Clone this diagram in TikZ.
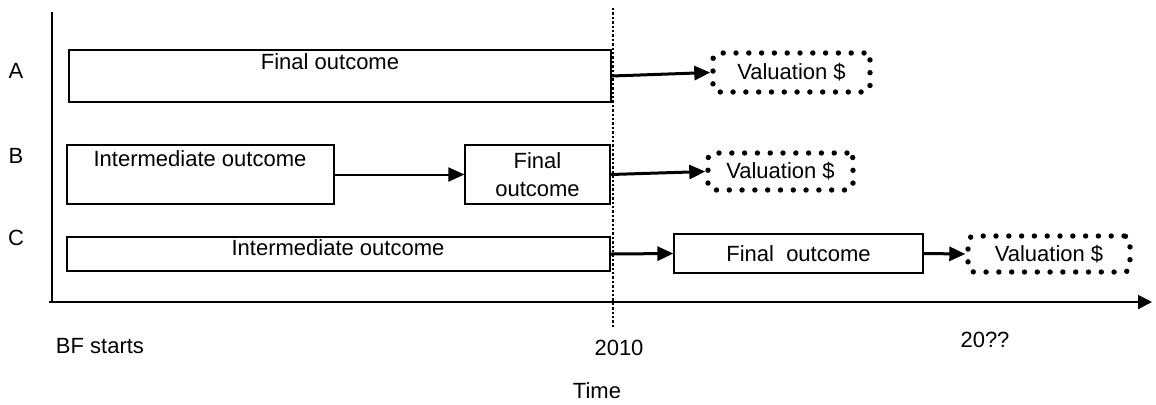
\documentclass[tikz,border=0pt]{standalone}
\usepackage{fontspec}
\setmainfont{Liberation Sans}
\usetikzlibrary{arrows.meta}

\begin{document}
\begin{tikzpicture}[x=0.5pt,y=-0.5pt,
  every node/.style={font=\fontsize{11}{14}\selectfont},
  box/.style={draw,line width=0.6pt,inner sep=0pt,align=center},
  valbox/.style={draw,line width=2.7pt,dash pattern=on 0pt off 6.4pt,
    line cap=round,rounded corners=3pt,inner sep=0pt},
  link/.style={line width=1.5pt,-{Triangle[length=8pt,width=7pt]}},
  thinlink/.style={line width=1pt,-{Triangle[length=8pt,width=7pt]}},
  axis/.style={line width=1pt}]
\useasboundingbox (0,0) rectangle (1156,404);

% define the axes
  \coordinate (ytop)   at (52,12);
  \coordinate (orig)   at (52,302);
  \coordinate (xstart) at (49,302);
  \coordinate (xend)   at (1152,302);
  \coordinate (nowtop) at (613,8);
  \coordinate (nowbot) at (613,329);
  \draw[axis] (ytop) -- (orig);
  \draw[axis,-{Triangle[length=7pt,width=7pt]}] (xstart) -- (xend);
  \draw[line width=1.2pt,densely dotted] (nowtop) -- (nowbot);

% define the boxes
  \node[box, minimum width=271pt, minimum height=26pt]     (a)  at (340,76) {};
  \node[box, minimum width=133.5pt, minimum height=29.5pt] (b1) at (200.5,174.5) {};
  \node[box, minimum width=72.5pt, minimum height=29.5pt]  (b2) at (537.5,174.5) {Final\\outcome};
  \node[box, minimum width=271.5pt, minimum height=17pt]   (c1) at (338.5,254) {};
  \node[box, minimum width=124.5pt, minimum height=19.5pt] (c2) at (798.5,253.5) {Final\ \ outcome};
  \node[valbox, minimum width=78.5pt, minimum height=19.5pt] (v1) at (791.5,72.5) {Valuation \$};
  \node[valbox, minimum width=72.5pt, minimum height=18.5pt] (v2) at (780.5,171.5) {Valuation \$};
  \node[valbox, minimum width=81pt, minimum height=18pt]     (v3) at (1049,254) {Valuation \$};

% texts inside the boxes
  \node (aText)  at (330,62)  {Final outcome};
  \node (b1Text) at (200,159) {Intermediate outcome};
  \node (c1Text) at (338,248) {Intermediate outcome};

% row and time labels
  \node (rowA)  at (16,71)   {A};
  \node (rowB)  at (16,156)  {B};
  \node (rowC)  at (16,238)  {C};
  \node (start) at (100,346) {BF starts};
  \node (now)   at (619,348) {2010};
  \node (later) at (985,340) {20??};
  \node (time)  at (597,391) {Time};

% define the links
  \draw[link]     (a.east)  -- (v1.west);
  \draw[thinlink] (b1.east) -- (b2.west);
  \draw[link]     (b2.east) -- (v2.west);
  \draw[link]     (c1.east) -- (c2.west);
  \draw[link]     (c2.east) -- (v3.west);

\end{tikzpicture}
\end{document}
